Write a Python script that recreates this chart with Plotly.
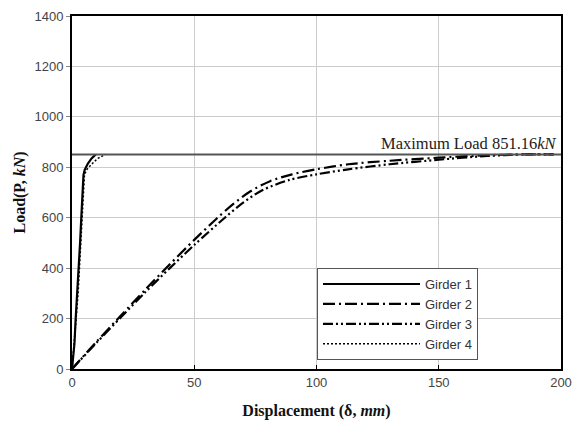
import plotly.graph_objects as go

# Data (displacement mm, load kN)
g1_x = [0, 0.5, 1.0, 1.5, 2.2, 2.8, 3.3, 3.8, 4.3, 4.7, 5.2, 6.5, 8.0, 9.7]
g1_y = [0, 50, 100, 200, 300, 400, 500, 600, 700, 770, 790, 815, 835, 851]

g4_x = [0, 0.7, 1.7, 2.5, 3.1, 3.6, 4.1, 4.6, 5.1, 6.0, 8.0, 10.5, 13.7]
g4_y = [0, 100, 200, 300, 400, 500, 600, 700, 770, 790, 812, 835, 851]

g2_x = [0, 10, 20, 30, 40, 50, 59, 66, 73, 81, 90, 100, 113, 130, 150, 170, 185, 197]
g2_y = [0, 108, 212, 315, 415, 512, 595, 655, 705, 745, 772, 792, 812, 826, 838, 848, 851, 851]

g3_x = [0, 10, 20, 30, 40, 50, 62.5, 70, 78, 89, 100, 113, 130, 150, 170, 185, 197]
g3_y = [0, 104, 205, 305, 400, 492, 600, 660, 710, 750, 772, 792, 812, 830, 845, 851, 851]

max_load = 851.16
x_ticks = [0, 50, 100, 150, 200]
y_ticks = [0, 200, 400, 600, 800, 1000, 1200, 1400]

fig = go.Figure()
fig.add_trace(go.Scatter(x=g1_x, y=g1_y, mode="lines", name="Girder 1",
                         line=dict(color="black", width=2.2)))
fig.add_trace(go.Scatter(x=g2_x, y=g2_y, mode="lines", name="Girder 2",
                         line=dict(color="black", width=2.2, dash="12px,4px,2px,4px", shape="spline", smoothing=0.8)))
fig.add_trace(go.Scatter(x=g3_x, y=g3_y, mode="lines", name="Girder 3",
                         line=dict(color="black", width=2.2, dash="10px,3px,2px,3px,2px,3px", shape="spline", smoothing=0.8)))
fig.add_trace(go.Scatter(x=g4_x, y=g4_y, mode="lines", name="Girder 4",
                         line=dict(color="black", width=1.5, dash="2px,2px")))

fig.add_hline(y=max_load, line=dict(color="#555555", width=2))
fig.add_annotation(x=1, xref="paper", y=max_load, yref="y", xanchor="right", yanchor="bottom",
                   text="Maximum Load 851.16<i>kN</i>", showarrow=False,
                   font=dict(family="Liberation Serif", size=16.5, color="#222"), xshift=-2, yshift=-1)

fig.update_layout(
    width=576, height=428,
    margin=dict(l=72, r=15, t=16, b=59),
    plot_bgcolor="white", paper_bgcolor="white",
    showlegend=True,
    legend=dict(x=0.501, y=0.286, xanchor="left", yanchor="top",
                bgcolor="white", bordercolor="#555", borderwidth=1,
                font=dict(family="Liberation Sans", size=13, color="#333"),
                itemwidth=97, tracegroupgap=0,
                ),
)
fig.update_xaxes(range=[0, 200], tickvals=x_ticks, showgrid=True, gridcolor="#cccccc", gridwidth=1,
                 showline=True, linecolor="black", linewidth=2, mirror=True,
                 ticks="inside", ticklen=4, tickcolor="black", automargin=False,
                 tickfont=dict(family="Liberation Sans", size=13, color="#444"),
                 zeroline=False,
                 title=dict(text="<b>Displacement (δ, <i>mm</i>)</b>",
                            font=dict(family="Liberation Serif", size=16, color="#111"), standoff=16))
fig.update_yaxes(range=[0, 1400], tickvals=y_ticks, showgrid=True, gridcolor="#cccccc", gridwidth=1,
                 showline=True, linecolor="black", linewidth=2, mirror=True,
                 ticks="outside", ticklen=4, tickcolor="#888", automargin=False,
                 tickfont=dict(family="Liberation Sans", size=13, color="#444"),
                 zeroline=False,
                 title=dict(text="<b>Load(P, <i>kN</i>)</b>",
                            font=dict(family="Liberation Serif", size=16, color="#111"), standoff=5))

fig.write_html("out.html")
